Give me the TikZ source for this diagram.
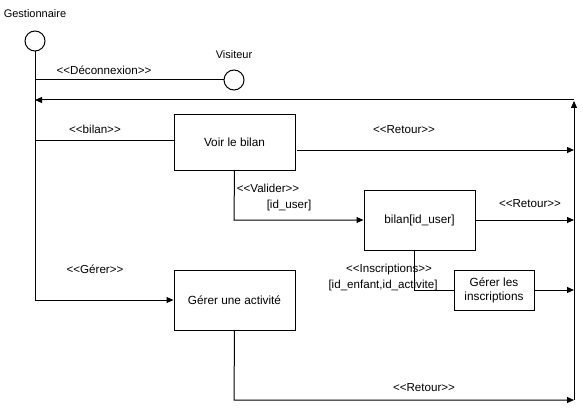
\documentclass[tikz,border=0pt]{standalone}
\usepackage{fontspec}
\setmainfont{Liberation Sans}
\usetikzlibrary{arrows.meta}
\begin{document}
\begin{tikzpicture}[x=1pt,y=-1pt,
  line width=1pt,
  box/.style={draw, line width=1pt, inner sep=0pt, align=center, font=\fontsize{11.8}{14}\selectfont},
  actor/.style={draw, circle, minimum size=20pt, inner sep=0pt},
  actorname/.style={font=\fontsize{11}{13}\selectfont, inner sep=0pt},
  lbl/.style={font=\fontsize{11.6}{13}\selectfont, inner sep=0pt, align=center},
  arr/.style={-{Triangle[length=7pt,width=6pt]}}]
\useasboundingbox (0,0) rectangle (583,409);
% actors
\node[actorname] (gl) at (35,14) {Gestionnaire};
\node[actor] (g) at (35,41) {};
\node[actorname] (vl) at (234,55) {Visiteur};
\node[actor] (v) at (234,80) {};
% boxes
\node[box, minimum width=121pt, minimum height=55pt] (voir) at (234.5,142.5) {Voir le bilan};
\node[box, minimum width=111pt, minimum height=60pt] (bil) at (419.5,220) {bilan[id\_user]};
\node[box, minimum width=80pt, minimum height=40pt] (gins) at (494,290) {Gérer les\\inscriptions};
\node[box, minimum width=121pt, minimum height=60pt] (gact) at (234.5,300) {Gérer une activité};
% coordinates
\coordinate (lv) at (35,80);
\coordinate (lr) at (35,100);
\coordinate (lb) at (35,140);
\coordinate (lg) at (35,300);
\coordinate (rtop) at (574,100);
\coordinate (rtip) at (574,101);
\coordinate (r1) at (574,150);
\coordinate (r2) at (574,220);
\coordinate (r3) at (574,290);
\coordinate (r4) at (574,400);
\coordinate (vs) at (297,150);
\coordinate (vb) at (234,220);
\coordinate (ib) at (414,290);
\coordinate (ab) at (234,400);
% lifeline
\draw (g.south) -- (lg);
\draw (lv) -- (v.west);
\draw (lb) -- (voir.west |- lb);
\draw[arr] (lg) -- (gact.west);
% return bus
\draw[arr] (r4) -- (rtip);
\draw[arr] (rtop) -- (lr);
% flows
\draw[arr] (vs) -- (r1);
\draw[arr] (voir.south) -- (vb) -- (bil.west);
\draw[arr] (bil.east) -- (r2);
\draw (bil.south -| ib) -- (ib) -- (gins.west);
\draw[arr] (gins.east) -- (r3);
\draw[arr] (gact.south) -- (ab) -- (r4);
% labels
\node[lbl] (ldec) at (104,70) {<{}<Déconnexion>{}>};
\node[lbl] (lbil) at (95,129) {<{}<bilan>{}>};
\node[lbl] (lret1) at (404,130) {<{}<Retour>{}>};
\node[lbl] (lval) at (268,188) {<{}<Valider>{}>};
\node[lbl] (lid) at (289,205) {[id\_user]};
\node[lbl] (lret2) at (530,204) {<{}<Retour>{}>};
\node[lbl] (lins) at (389,269) {<{}<Inscriptions>{}>};
\node[lbl] (lidi) at (383,285) {[id\_enfant,id\_activite]};
\node[lbl] (lger) at (95,269) {<{}<Gérer>{}>};
\node[lbl] (lret3) at (424,388) {<{}<Retour>{}>};
\end{tikzpicture}
\end{document}
